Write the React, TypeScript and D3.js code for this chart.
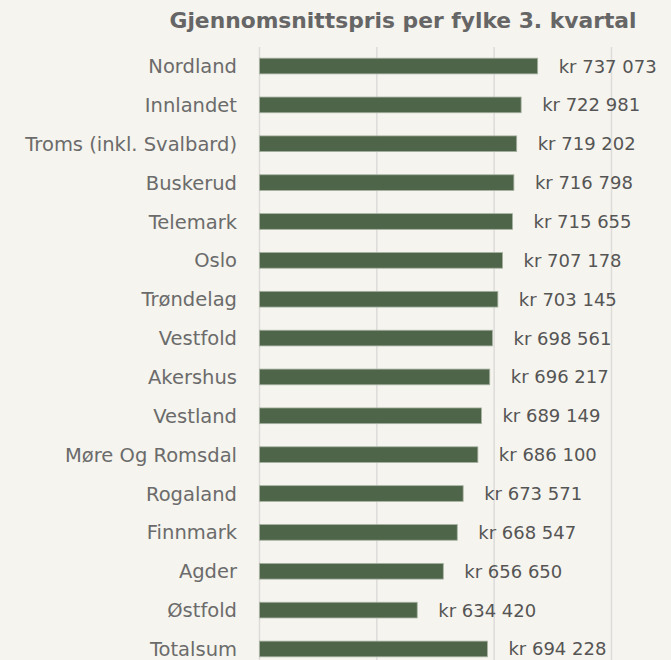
import React from "react";
import * as d3 from "d3";

const categories = [
  "Nordland",
  "Innlandet",
  "Troms (inkl. Svalbard)",
  "Buskerud",
  "Telemark",
  "Oslo",
  "Trøndelag",
  "Vestfold",
  "Akershus",
  "Vestland",
  "Møre Og Romsdal",
  "Rogaland",
  "Finnmark",
  "Agder",
  "Østfold",
  "Totalsum",
];
const values = [
  737073, 722981, 719202, 716798, 715655, 707178, 703145, 698561, 696217,
  689149, 686100, 673571, 668547, 656650, 634420, 694228,
];
const gridTicks = [500000, 600000, 700000, 800000];
const title = "Gjennomsnittspris per fylke 3. kvartal";

const W = 671;
const H = 660;
const FONT = "'DejaVu Sans', sans-serif";

export default function App() {
  const x = d3.scaleLinear().domain([500000, 800000]).range([259.5, 611.5]);
  const y = d3
    .scaleBand<string>()
    .domain(categories)
    .range([46.6, 668.4])
    .paddingInner(0.596)
    .paddingOuter(0.298);
  const loc = d3.formatLocale({
    decimal: ",",
    thousands: "\u00a0",
    grouping: [3],
    currency: ["kr ", ""],
  });
  const fmt = loc.format(",d");

  return (
    <svg
      width={W}
      height={H}
      style={{ position: "absolute", left: 0, top: 0, display: "block" }}
    >
      <rect x={0} y={0} width={W} height={H} fill="#f5f4ee" />
      <text
        x={403}
        y={28}
        textAnchor="middle"
        fontFamily={FONT}
        fontWeight={700}
        fontSize={21.8}
        fill="#666666"
      >
        {title}
      </text>
      {gridTicks.map((t) => (
        <line
          key={t}
          x1={x(t)}
          x2={x(t)}
          y1={47}
          y2={H}
          stroke="#dddcda"
          strokeWidth={1.5}
        />
      ))}
      {categories.map((c, i) => {
        const yy = y(c)!;
        const bw = y.bandwidth();
        return (
          <g key={c}>
            <rect
              x={x(500000)}
              y={yy}
              width={x(values[i]) - x(500000)}
              height={bw}
              fill="#4e6549"
              stroke="#a7b2a2"
              strokeWidth={0.8}
            />
            <text
              x={237}
              y={yy + bw / 2}
              dy="0.36em"
              textAnchor="end"
              fontFamily={FONT}
              fontSize={19.5}
              fill="#6b6b6b"
            >
              {c}
            </text>
            <text
              x={x(values[i]) + 21}
              y={yy + bw / 2}
              dy="0.36em"
              fontFamily={FONT}
              fontSize={18}
              fill="#555555"
            >
              {"kr " + fmt(values[i])}
            </text>
          </g>
        );
      })}
    </svg>
  );
}
